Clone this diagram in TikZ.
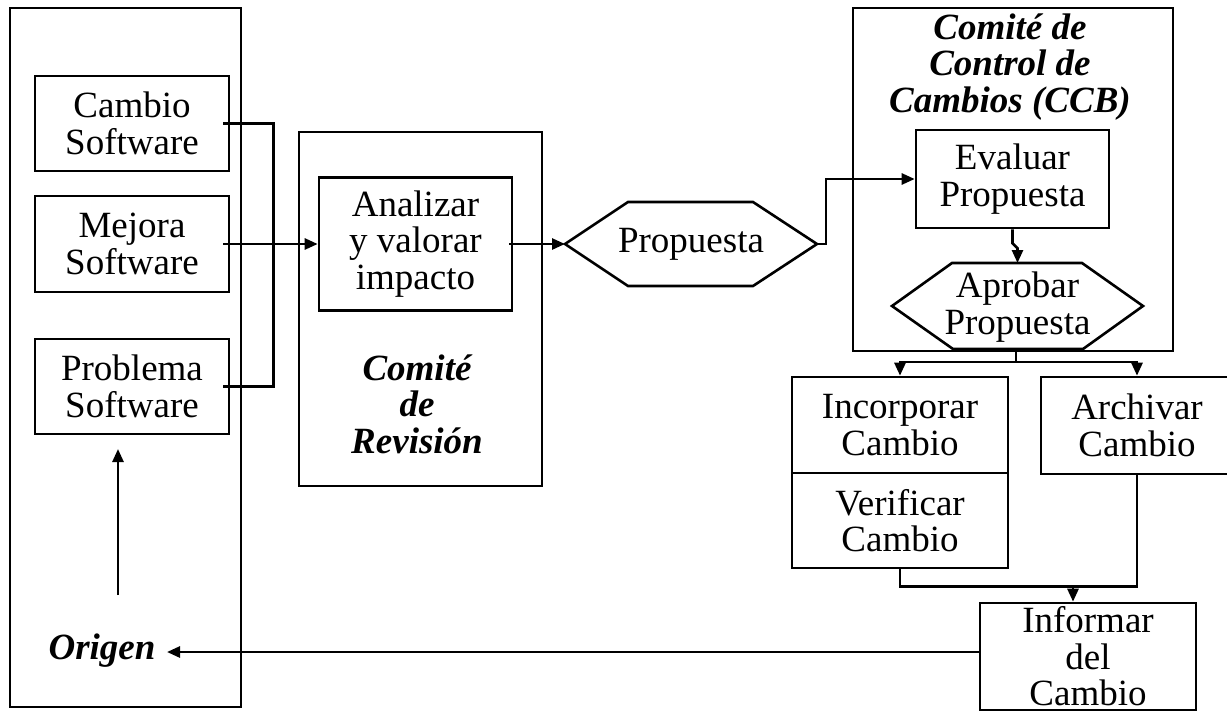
\documentclass[tikz,border=0pt]{standalone}
\usepackage{fontspec}
\setmainfont{Liberation Serif}
\usetikzlibrary{arrows.meta}
\tikzset{
  base/.style={font=\fontsize{18.5}{18.2}\selectfont, align=center, inner sep=0pt},
  boxn/.style={base, draw, line width=1.3pt},
  title/.style={base, font=\fontsize{18.5}{18.2}\selectfont\bfseries\itshape},
  conn/.style={line width=1.3pt},
  arr/.style={conn, -{Triangle[length=6.5pt,width=5.5pt]}}
}
\begin{document}
\begin{tikzpicture}[x=0.5pt,y=-0.5pt]
\useasboundingbox (0,0) rectangle (1227,713);
% Origen
\node[boxn, minimum width=115.5pt, minimum height=349.5pt] (origenbox) at (125.5,357.5) {};
\node[boxn, minimum width=97pt, minimum height=47.5pt] (cambio) at (132,123.5) {Cambio\\Software};
\node[boxn, minimum width=97pt, minimum height=48pt] (mejora) at (132,244) {Mejora\\Software};
\node[boxn, minimum width=97pt, minimum height=47.5pt] (problema) at (132,386.5) {Problema\\Software};
\node[title] (origen) at (102,651) {Origen};
\coordinate (oa) at (118,595);
\coordinate (ob) at (118,449);
\draw[arr] (oa) -- (ob);
% Revision
\node[boxn, minimum width=121.5pt, minimum height=177pt] (revision) at (420.5,309) {};
\node[boxn, minimum width=96.5pt, minimum height=66.5pt] (analizar) at (415.5,244) {Analizar\\y valorar\\impacto};
\node[title] (revtxt) at (417,404) {Comité\\de\\Revisión};
\draw[conn] ([xshift=-3.5pt]cambio.east) -- ++(25pt,0) |- ([xshift=-3.5pt]problema.east);
\draw[arr] ([xshift=-3.5pt]mejora.east) -- (analizar.west);
% Propuesta
\node[base] (propuesta) at (691,244) {Propuesta};
\coordinate (pL) at (565,244);
\coordinate (pR) at (817,244);
\draw[conn] (pL) -- (628,202) -- (753,202) -- (pR) -- (753,286) -- (628,286) -- cycle;
\draw[arr] ([xshift=-2pt]analizar.east) -- (pL);
% CCB
\node[boxn, minimum width=160pt, minimum height=171.5pt] (ccb) at (1013,179.5) {};
\node[title] (ccbtxt) at (1010,67) {Comité de\\Control de\\Cambios (CCB)};
\node[boxn, minimum width=96.5pt, minimum height=49pt] (evaluar) at (1012.5,179) {Evaluar\\Propuesta};
\draw[arr] (pR) -- ++(4.5pt,0) |- (evaluar.west);
\node[base] (aprobar) at (1017.5,307) {Aprobar\\Propuesta};
\draw[conn] (892,306) -- (952,263) -- (1082,263) -- (1143,306) -- (1083,349) -- (953,349) -- cycle;
\coordinate (aT) at (1017.5,263);
\coordinate (aB) at (1016,349);
\draw[arr] (evaluar.south) -- ++(0,-7pt) -- ++(2.5pt,-2.5pt) -- (aT);
% Branches
\node[boxn, minimum width=108pt, minimum height=48pt] (incorporar) at (900,425) {Incorporar\\Cambio};
\node[boxn, minimum width=108pt, minimum height=47.5pt] (verificar) at (900,520.5) {Verificar\\Cambio};
\node[boxn, minimum width=96pt, minimum height=48.5pt] (archivar) at (1137,425.5) {Archivar\\Cambio};
\node[boxn, minimum width=108pt, minimum height=53.5pt] (informar) at (1088,656.5) {Informar\\del\\Cambio};
\coordinate (br) at (1016,362);
\draw[conn] (aB) -- (br);
\draw[arr] (br) -| (incorporar.north);
\draw[arr] (br) -| (archivar.north);
\draw[conn] (verificar.south) -- ++(0,-8.5pt) -| (archivar.south);
\coordinate (jn) at (1073,585);
\draw[arr] (jn) -- (jn |- informar.north);
\coordinate (oend) at (167,652);
\draw[arr] ([yshift=2.25pt]informar.west) -- (oend);
\end{tikzpicture}
\end{document}
